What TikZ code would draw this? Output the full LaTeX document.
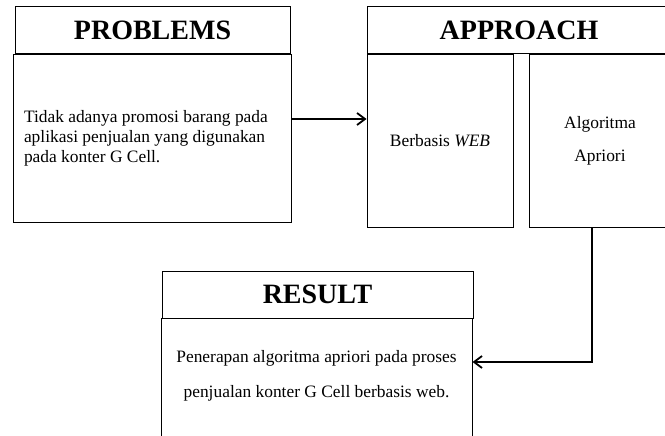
\documentclass[tikz,border=0pt]{standalone}
\usepackage{fontspec}
\setmainfont{Liberation Serif}
\usepackage{tikz}
\usetikzlibrary{calc,arrows.meta}

\tikzset{
    titlebox/.style={draw,line width=1pt,minimum height=47,inner sep=0pt,
        font=\fontsize{28}{30}\selectfont\bfseries},
    bodybox/.style={draw,line width=1pt,inner sep=0pt,
        font=\fontsize{17.4}{20}\selectfont},
    conn/.style={line width=1.8pt,-{Straight Barb[length=8pt,width=12pt]}}
}

\begin{document}
\begin{tikzpicture}[x=1pt,y=-1pt]
            \useasboundingbox (0,0) rectangle (665,436);
            \clip (0,0) rectangle (665,436);
            % problems
            \node[titlebox,minimum width=275] (probtitle) at (152.5,30.5) {PROBLEMS};
            \node[bodybox,minimum width=278,minimum height=167,text width=256,inner xsep=11pt,align=flush left] (probbody) at (152,138.5)
                {Tidak adanya promosi barang pada\\aplikasi penjualan yang digunakan\\pada konter G Cell.};
            % approach
            \node[titlebox,minimum width=304] (apptitle) at (519,30.5) {APPROACH};
            \node[bodybox,minimum width=146,minimum height=172] (webbox) at (440,141) {Berbasis \textit{WEB}};
            \node[bodybox,minimum width=142,minimum height=172,align=center,font=\fontsize{17.4}{33}\selectfont] (aprbox) at (600,141)
                {Algoritma\\Apriori};
            % result
            \node[titlebox,minimum width=311] (restitle) at (317.5,294.5) {RESULT};
            \node[bodybox,minimum width=311,minimum height=152] (resbody) at (316.5,394) {};
            \node[align=center,inner sep=0pt,font=\fontsize{17.4}{35}\selectfont] (restext) at (316.5,376)
                {Penerapan algoritma apriori pada proses\\penjualan konter G Cell berbasis web.};
            % connectors
            \coordinate (arrowrow) at (0,119);
            \coordinate (turn) at (592,362);
            \draw[conn] (probbody.east |- arrowrow) -- (webbox.west |- arrowrow);
            \draw[conn] ([xshift=-8pt]aprbox.south) -- (turn) -- (resbody.east |- turn);
\end{tikzpicture}
\end{document}
